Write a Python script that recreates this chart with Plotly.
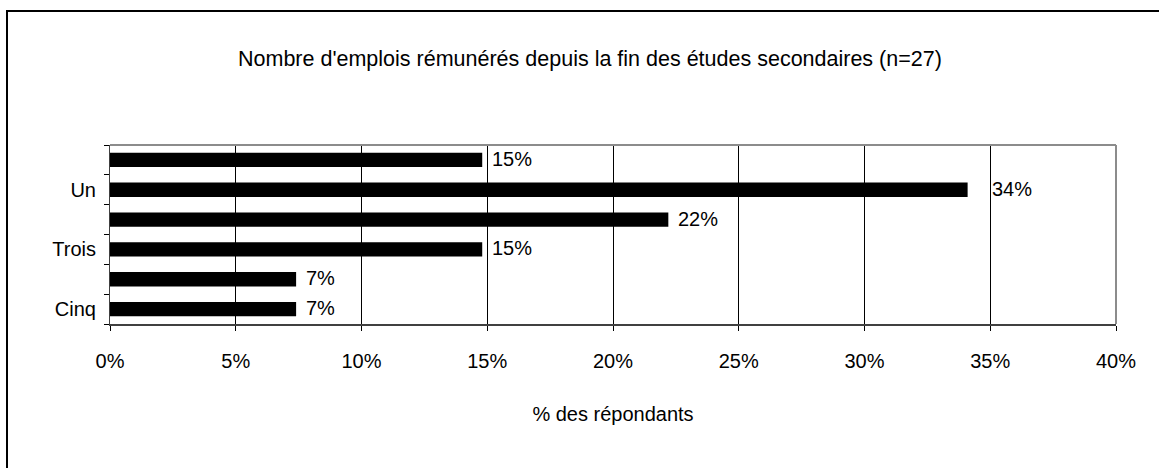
import plotly.graph_objects as go

# Number of paid jobs held since the end of secondary school (n=27)
categories = ["Aucun", "Un", "Deux", "Trois", "Quatre", "Cinq"]
shown_labels = ["", "Un", "", "Trois", "", "Cinq"]
percent = [14.8, 34.1, 22.2, 14.8, 7.4, 7.4]
x_ticks = [0, 5, 10, 15, 20, 25, 30, 35, 40]
x_tick_text = ["0%", "5%", "10%", "15%", "20%", "25%", "30%", "35%", "40%"]

FONT = "Liberation Sans, Arial, sans-serif"
SIZE = 20

fig = go.Figure(
    go.Bar(
        x=percent,
        y=categories,
        orientation="h",
        marker=dict(color="black", line=dict(width=0)),
        width=0.48,
        hoverinfo="skip",
    )
)

# value labels to the right of each bar (the longest one sits a bit further out)
label_shift = [8, 22, 8, 8, 8, 8]
for cat, val, dx in zip(categories, percent, label_shift):
    fig.add_annotation(
        x=val, y=cat, text=f"{val:.0f}%", showarrow=False,
        xanchor="left", yanchor="middle", xshift=dx, yshift=1,
        font=dict(family=FONT, size=SIZE, color="black"),
    )

fig.update_layout(
    width=1159, height=468,
    margin=dict(l=110, r=43, t=145, b=144),
    paper_bgcolor="white", plot_bgcolor="white",
    showlegend=False,
    font=dict(family=FONT, size=SIZE, color="black"),
    title=dict(
        text="Nombre d'emplois rémunérés depuis la fin des études secondaires (n=27)",
        x=0.509, xanchor="center", y=1 - 58 / 468, yanchor="middle",
        font=dict(family=FONT, size=21.5, color="black"),
    ),
    xaxis=dict(
        range=[0, 40], tickvals=x_ticks, ticktext=x_tick_text,
        showgrid=True, gridcolor="black", gridwidth=1,
        showline=True, linecolor="#404040", linewidth=2,
        ticks="outside", ticklen=5, tickcolor="black",
        ticklabelstandoff=13,
        zeroline=False,
        title=dict(text="% des répondants", standoff=36,
                   font=dict(family=FONT, size=SIZE, color="black")),
        fixedrange=True,
    ),
    yaxis=dict(
        type="category", categoryorder="array", categoryarray=categories,
        autorange="reversed",
        tickvals=categories, ticktext=shown_labels,
        tickson="boundaries", ticks="outside", ticklen=5, tickcolor="black",
        ticklabelstandoff=9,
        showline=True, linecolor="#404040", linewidth=1,
        showgrid=False, fixedrange=True,
    ),
)

# grey frame on the top and right of the plot area
fig.add_shape(type="line", xref="paper", yref="paper", x0=0, x1=1, y0=1, y1=1,
              line=dict(color="#8c8c8c", width=2), layer="above")
fig.add_shape(type="line", xref="paper", yref="paper", x0=1, x1=1, y0=0, y1=1,
              line=dict(color="#8c8c8c", width=2), layer="above")

# outer chart border
fig.add_shape(type="rect", xref="paper", yref="paper",
              x0=-103 / 1006, x1=1.2, y0=-1.0, y1=1 + 134 / 179,
              line=dict(color="black", width=2), fillcolor="rgba(0,0,0,0)",
              layer="above")

fig.write_html("out.html")
